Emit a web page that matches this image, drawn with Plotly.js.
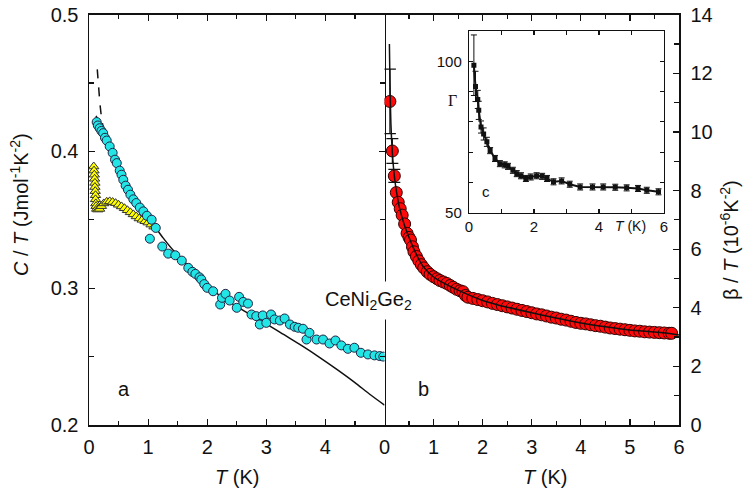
<!DOCTYPE html>
<html>
<head>
<meta charset="utf-8">
<script src="https://cdn.plot.ly/plotly-3.0.1.min.js"></script>
<style>html,body{margin:0;padding:0;background:#fff;}#chart{width:744px;height:494px;}</style>
</head>
<body>
<div id="chart"></div>
<script>
// ---- Panel a: C/T vs T ----
const cyanT = [0.13,0.15,0.18,0.21,0.24,0.27,0.30,0.35,0.40,0.44,0.47,0.52,0.55,0.58,0.62,0.66,0.70,0.75,0.80,0.86,0.92,0.98,1.06,1.13,1.03,1.24,1.34,1.46,1.57,1.68,1.75,1.80,1.87,1.90,1.95,2.00,2.10,2.22,2.25,2.31,2.38,2.50,2.54,2.61,2.69,2.75,2.83,2.89,2.94,3.00,3.08,3.14,3.23,3.31,3.40,3.48,3.54,3.62,3.68,3.73,3.85,3.96,4.07,4.17,4.27,4.38,4.49,4.60,4.72,4.83,4.92,4.98];
const cyanC = [0.4215,0.419,0.417,0.415,0.4134,0.410,0.408,0.4037,0.399,0.394,0.3915,0.386,0.383,0.3793,0.375,0.372,0.3684,0.365,0.3623,0.359,0.3562,0.353,0.3501,0.3441,0.3362,0.3305,0.3253,0.3241,0.3202,0.3149,0.312,0.3105,0.308,0.3064,0.303,0.3003,0.2978,0.2881,0.293,0.2959,0.291,0.2857,0.2937,0.290,0.2888,0.2808,0.2796,0.2735,0.2801,0.2747,0.2808,0.2772,0.2764,0.2779,0.2735,0.2718,0.2711,0.2704,0.2625,0.2674,0.2625,0.2625,0.2596,0.2618,0.2582,0.2557,0.2565,0.2528,0.2516,0.2509,0.2504,0.250];
const yellowT = [0.08,0.085,0.09,0.095,0.10,0.10,0.105,0.11,0.11,0.115,0.12,0.13,0.15,0.18,0.21,0.25,0.30,0.35,0.40,0.45,0.50,0.55,0.60,0.65,0.70,0.75,0.80,0.85,0.90,0.95,1.00,1.05,1.10];
const yellowC = [0.389,0.386,0.383,0.380,0.377,0.374,0.371,0.368,0.365,0.362,0.360,0.358,0.3575,0.358,0.360,0.362,0.3632,0.3635,0.3630,0.3622,0.361,0.3598,0.3585,0.357,0.3555,0.354,0.3525,0.351,0.350,0.349,0.348,0.3465,0.345];
const fitAT = [0.12,0.2,0.3,0.4,0.5,0.6,0.7,0.8,0.9,1.0,1.13,1.25,1.42,1.6,1.8,2.0,2.3,2.66,3.0,3.3,3.6,3.9,4.2,4.5,4.75,5.0];
const fitAC = [0.426,0.418,0.408,0.398,0.389,0.380,0.371,0.363,0.356,0.350,0.344,0.337,0.328,0.320,0.311,0.302,0.292,0.2825,0.274,0.266,0.258,0.2495,0.2405,0.231,0.2225,0.2146];
const dashT = [0.14,0.16,0.185,0.215,0.25];
const dashC = [0.46,0.447,0.435,0.423,0.416];

// ---- Panel b: beta/T vs T ----
const redT = [0.11,0.16,0.20,0.24,0.28,0.32,0.36,0.41,0.46,0.50,0.53,0.57,0.60,0.65,0.70,0.75,0.80,0.87,0.93,1.00,1.07,1.13,1.20,1.27,1.34,1.40,1.47,1.54,1.60,1.65,1.70,1.80,1.90,2.00,2.10,2.20,2.30,2.40,2.50,2.60,2.70,2.80,2.90,3.00,3.10,3.20,3.30,3.40,3.50,3.60,3.70,3.80,3.90,4.00,4.10,4.20,4.30,4.40,4.50,4.60,4.70,4.80,4.90,5.00,5.10,5.20,5.30,5.40,5.50,5.60,5.70,5.80,5.85];
const redB = [11.04,9.35,8.50,7.93,7.60,7.38,7.16,6.86,6.54,6.40,6.31,6.08,5.91,5.75,5.60,5.47,5.36,5.23,5.14,5.06,4.99,4.93,4.88,4.83,4.76,4.70,4.63,4.58,4.55,4.42,4.36,4.32,4.28,4.24,4.20,4.15,4.11,4.07,4.03,3.99,3.95,3.91,3.87,3.83,3.79,3.76,3.72,3.68,3.65,3.61,3.58,3.54,3.50,3.47,3.45,3.42,3.39,3.37,3.34,3.31,3.29,3.27,3.25,3.23,3.21,3.20,3.18,3.17,3.16,3.15,3.14,3.13,3.13];
const redErrT = [0.11,0.16,0.20];
const redErrB = [11.04,9.35,8.50];
const redErr = [1.1,0.42,0.22];
const fitBT = [0.1,0.11,0.13,0.16,0.2,0.25,0.3,0.4,0.5,0.6,0.7,0.8,1.0,1.2,1.5,2.0,2.5,3.0,3.5,4.0,4.5,5.0,5.5,5.85,6.0];
const fitBB = [13.0,11.8,10.3,9.3,8.5,7.9,7.45,6.85,6.4,6.0,5.65,5.38,5.05,4.85,4.6,4.25,4.02,3.83,3.65,3.48,3.35,3.24,3.17,3.11,3.07];

// ---- Inset c: Gamma vs T ----
const gamT = [0.15,0.20,0.27,0.30,0.37,0.45,0.55,0.65,0.8,0.95,1.1,1.2,1.35,1.47,1.6,1.75,1.9,2.08,2.25,2.4,2.6,2.85,3.1,3.42,3.8,4.13,4.5,4.85,5.2,5.47,5.83];
const gamV = [98.7,91.7,87.4,83.8,78.3,76,73.4,70.5,67.9,66.2,65.8,65.3,64,62.9,62.2,61.3,61.8,62.2,62,61.3,60.2,60.5,59.4,58.5,58.5,58.5,58.4,58.2,58,57.4,56.9];
const gamErr = [10,5,3,3,2,2,1.5,1,1,1,1,1,1,1,1,1,1,1,1,1,1,1,1,1,1,1,1,1,1,1,1];

const W = 744, H = 494;
const px = x => x / W, py = y => 1 - y / H;
const FONT = 'Liberation Sans, Arial, sans-serif';
const INK = '#111';
const FS = 20;

const traces = [
  {x: fitAT, y: fitAC, mode: 'lines', line: {color: INK, width: 1.5, shape: 'spline', smoothing: 0.8}, xaxis: 'x', yaxis: 'y'},
  {x: dashT, y: dashC, mode: 'lines', line: {color: INK, width: 1.5, dash: 'dash'}, xaxis: 'x', yaxis: 'y'},
  {x: yellowT, y: yellowC, mode: 'markers', marker: {symbol: 'triangle-up', size: 9, color: '#ffff00', line: {color: '#333', width: 1}}, xaxis: 'x', yaxis: 'y'},
  {x: cyanT, y: cyanC, mode: 'markers', marker: {symbol: 'circle', size: 9, color: '#22e6e6', line: {color: '#224', width: 1}}, xaxis: 'x', yaxis: 'y'},
  {x: redErrT, y: redErrB, mode: 'markers', marker: {size: 1, color: 'rgba(0,0,0,0)'},
   error_y: {type: 'data', array: redErr, color: INK, thickness: 1.2, width: 6}, xaxis: 'x2', yaxis: 'y2'},
  {x: redT, y: redB, mode: 'markers', marker: {symbol: 'circle', size: 12, color: '#ff0a0a', line: {color: '#300', width: 1}}, xaxis: 'x2', yaxis: 'y2'},
  {x: fitBT, y: fitBB, mode: 'lines', line: {color: INK, width: 1.5, shape: 'spline', smoothing: 0.6}, xaxis: 'x2', yaxis: 'y2'},
  {x: gamT, y: gamV, mode: 'lines+markers', line: {color: INK, width: 2}, marker: {symbol: 'square', size: 5, color: INK},
   error_y: {type: 'data', array: gamErr, color: INK, thickness: 1, width: 3}, xaxis: 'x3', yaxis: 'y3'}
];

const baseAxis = {
  showline: true, linecolor: INK, linewidth: 1.5, ticks: 'inside', tickcolor: INK, tickwidth: 1.2,
  showgrid: false, zeroline: false, tickfont: {family: FONT, size: FS, color: INK}, fixedrange: true
};

function ann(text, x, y, size, extra) {
  return Object.assign({text: text, x: px(x), y: py(y), xref: 'paper', yref: 'paper', xanchor: 'center', yanchor: 'middle',
    showarrow: false, font: {family: FONT, size: size, color: INK}}, extra || {});
}

const layout = {
  width: W, height: H, margin: {l: 0, r: 0, t: 0, b: 0},
  paper_bgcolor: '#fff', plot_bgcolor: 'rgba(0,0,0,0)', showlegend: false,
  xaxis: Object.assign({}, baseAxis, {domain: [px(89), px(384.5)], range: [0, 5], tickvals: [0,1,2,3,4], ticktext: ['0','1','2','3','4'],
    ticklen: 6, mirror: 'ticks', minor: {dtick: 0.5, ticks: 'inside', ticklen: 4, tickcolor: INK}, anchor: 'y', ticklabelstandoff: 3}),
  yaxis: Object.assign({}, baseAxis, {domain: [py(425), py(14.7)], range: [0.2, 0.5], tickvals: [0.2,0.3,0.4,0.5], ticktext: ['0.2','0.3','0.4','0.5'],
    ticklen: 6, mirror: 'ticks', minor: {dtick: 0.05, ticks: 'inside', ticklen: 5, tickcolor: INK}, anchor: 'x', ticklabelstandoff: 5}),
  xaxis2: Object.assign({}, baseAxis, {domain: [px(384.5), px(679)], range: [0, 6], dtick: 1, tick0: 0,
    ticklen: 6, mirror: 'ticks', minor: {dtick: 0.5, ticks: 'inside', ticklen: 4, tickcolor: INK}, anchor: 'y2', ticklabelstandoff: 3}),
  yaxis2: Object.assign({}, baseAxis, {domain: [py(425), py(14.7)], range: [0, 14], dtick: 2, tick0: 0, side: 'right',
    ticklen: 6, minor: {dtick: 1, ticks: 'inside', ticklen: 5, tickcolor: INK}, anchor: 'x2', ticklabelstandoff: 6}),
  xaxis3: Object.assign({}, baseAxis, {domain: [px(469), px(664)], range: [0, 6], tickvals: [0,1,2,3,4,5,6], ticktext: ['0','','2','','4','','6'],
    ticklen: 4, mirror: 'ticks', linewidth: 1.2, tickfont: {family: FONT, size: 15, color: INK}, anchor: 'y3', ticklabelstandoff: 0}),
  yaxis3: Object.assign({}, baseAxis, {domain: [py(212.7), py(31)], range: [50, 110], tickvals: [50,60,70,80,90,100,110], ticktext: ['50','','','','','100',''],
    ticklen: 4, mirror: 'ticks', linewidth: 1.2, tickfont: {family: FONT, size: 15, color: INK}, anchor: 'x3', ticklabelstandoff: 3}),
  annotations: [
    ann('<i>C</i> / <i>T</i> (Jmol<sup>-1</sup>K<sup>-2</sup>)', 19, 205, FS, {textangle: -90}),
    ann('β / <i>T</i> (10<sup>-6</sup>K<sup>-2</sup>)', 730, 240, FS, {textangle: -90}),
    ann('<i>T</i> (K)', 237, 477, FS),
    ann('<i>T</i> (K)', 545, 477, FS),
    ann('CeNi<sub>2</sub>Ge<sub>2</sub>', 368, 300, FS, {bgcolor: '#fff', borderpad: 6}),
    ann('a', 124, 389, FS),
    ann('b', 423, 389, FS),
    ann('c', 486, 191, 15),
    ann('Γ', 452, 100, 16, {font: {family: 'Liberation Serif, serif', size: 16, color: INK}}),
    ann('<i>T</i> (K)', 630, 226, 14)
  ]
};

Plotly.newPlot('chart', traces, layout, {staticPlot: true, displayModeBar: false});
</script>
</body>
</html>
